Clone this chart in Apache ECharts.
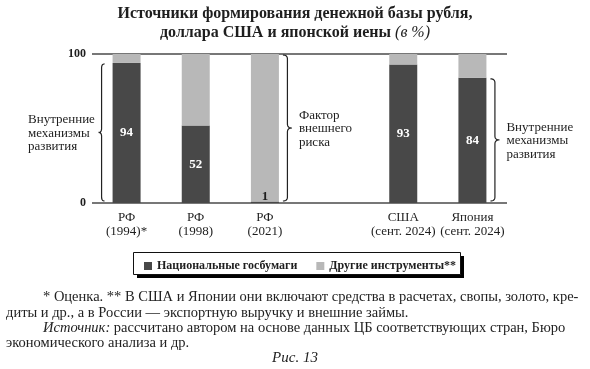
<!DOCTYPE html>
<html>
<head>
<meta charset="utf-8">
<script src="https://cdn.jsdelivr.net/npm/echarts@6/dist/echarts.min.js"></script>
<style>
html,body{margin:0;padding:0;background:#fff;}
#chart{width:590px;height:369px;}
</style>
</head>
<body>
<div id="chart"></div>
<script>
// ---- data ----
var categories = ['РФ\n(1994)*', 'РФ\n(1998)', 'РФ\n(2021)', '', 'США\n(сент. 2024)', 'Япония\n(сент. 2024)'];
var seriesNames = ['Национальные госбумаги', 'Другие инструменты**'];
var nationalBonds = [94, 52, 1, null, 93, 84];
var otherInstruments = [6, 48, 99, null, 7, 16];
var yTicks = [0, 100];

var SERIF = '"Liberation Serif", "DejaVu Serif", serif';
var DARK = '#484848';
var LIGHT = '#b8b8b8';
var INK = '#1e1e1e';

var chart = echarts.init(document.getElementById('chart'), null, {renderer: 'canvas'});

var natData = nationalBonds.map(function (v) {
  if (v === null) return '-';
  if (v < 5) {
    return {value: v, label: {position: 'top', distance: -2, color: INK}};
  }
  return v;
});
var othData = otherInstruments.map(function (v) { return v === null ? '-' : v; });

var option = {
  animation: false,
  backgroundColor: '#fff',
  title: {
    left: 'center',
    top: 4,
    padding: 0,
    text: '{b|Источники формирования денежной базы рубля,}\n{b|доллара США и японской иены }{i|(в %)}',
    textStyle: {
      fontFamily: SERIF,
      lineHeight: 19,
      rich: {
        b: {fontFamily: SERIF, fontWeight: 'bold', fontSize: 16, color: INK, lineHeight: 19},
        i: {fontFamily: SERIF, fontStyle: 'italic', fontWeight: 'normal', fontSize: 16, color: INK, lineHeight: 19}
      }
    }
  },
  legend: {
    left: 144,
    top: 260,
    itemWidth: 8,
    itemHeight: 8,
    itemGap: 19,
    icon: 'rect',
    padding: 0,
    textStyle: {fontFamily: SERIF, fontWeight: 'bold', fontSize: 12, color: INK},
    data: seriesNames
  },
  grid: {left: 92, right: 83, top: 54, bottom: 166, containLabel: false},
  xAxis: {
    type: 'category',
    data: categories,
    axisLine: {show: false},
    axisTick: {show: false},
    axisLabel: {fontFamily: SERIF, fontSize: 13, color: INK, lineHeight: 14, margin: 8, interval: 0}
  },
  yAxis: {
    type: 'value',
    min: 0,
    max: 100,
    interval: 100,
    axisLine: {show: false},
    axisTick: {show: false},
    splitLine: {show: true, lineStyle: {color: '#4a4a4a', width: 1.5}},
    axisLabel: {
      fontFamily: SERIF, fontSize: 12, fontWeight: 'bold', color: INK, margin: 6,
      customValues: yTicks
    }
  },
  series: [
    {
      name: seriesNames[0],
      type: 'bar',
      stack: 'total',
      barWidth: 28,
      itemStyle: {color: DARK},
      label: {show: true, position: 'inside', color: '#fff', fontFamily: SERIF, fontWeight: 'bold', fontSize: 13},
      data: natData
    },
    {
      name: seriesNames[1],
      type: 'bar',
      stack: 'total',
      barWidth: 28,
      itemStyle: {color: LIGHT},
      data: othData
    }
  ]
};
chart.setOption(option);

// ---- annotation braces, positioned from the axes ----
function quad(pts, p0, c, p1) {
  for (var t = 1; t <= 8; t++) {
    var s = t / 8, u = 1 - s;
    pts.push([u * u * p0[0] + 2 * u * s * c[0] + s * s * p1[0],
              u * u * p0[1] + 2 * u * s * c[1] + s * s * p1[1]]);
  }
}
function bracePoints(xTip, xEnd, y1, y2) {
  var xs = (xTip + xEnd) / 2;
  var ym = (y1 + y2) / 2;
  var r = 4;
  var pts = [[xEnd, y1]];
  quad(pts, [xEnd, y1], [xs, y1], [xs, y1 + r]);
  pts.push([xs, ym - r]);
  quad(pts, [xs, ym - r], [xs, ym], [xTip, ym]);
  quad(pts, [xTip, ym], [xs, ym], [xs, ym + r]);
  pts.push([xs, y2 - r]);
  quad(pts, [xs, y2 - r], [xs, y2], [xEnd, y2]);
  return pts;
}
function px(catIdx, val) {
  return chart.convertToPixel({gridIndex: 0}, [catIdx, val]);
}
var halfBar = 14;
var braces = [
  {cat: 0, side: 'left', top: nationalBonds[0], label: 'Внутренние\nмеханизмы\nразвития'},
  {cat: 2, side: 'right', top: 100, label: 'Фактор\nвнешнего\nриска'},
  {cat: 5, side: 'right', top: nationalBonds[5], label: 'Внутренние\nмеханизмы\nразвития'}
];
var graphics = [];
braces.forEach(function (b) {
  var pTop = px(b.cat, b.top);
  var pBot = px(b.cat, 0);
  var y1 = pTop[1] + 1, y2 = pBot[1] - 2;
  var xTip, xEnd, tx;
  if (b.side === 'left') {
    xEnd = pTop[0] - halfBar - 8; xTip = xEnd - 6;
    tx = 28;
  } else {
    xEnd = pTop[0] + halfBar + 4; xTip = xEnd + 9;
    tx = xTip + 7;
  }
  graphics.push({
    type: 'polyline', silent: true,
    shape: {points: bracePoints(xTip, xEnd, y1, y2)},
    style: {fill: null, stroke: '#222', lineWidth: 1.2}
  });
  graphics.push({
    type: 'text', silent: true,
    x: tx, y: (y1 + y2) / 2 + 1,
    style: {text: b.label, font: '13px ' + SERIF, fill: INK, lineHeight: 13.5,
      align: 'left', verticalAlign: 'middle'}
  });
});

// legend frame with solid offset shadow
graphics.push({
  type: 'rect', silent: true, z: -2,
  shape: {x: 137, y: 256, width: 327, height: 22},
  style: {fill: '#000', stroke: null}
});
graphics.push({
  type: 'rect', silent: true, z: -1,
  shape: {x: 133.5, y: 252.5, width: 327, height: 22},
  style: {fill: '#fff', stroke: '#111', lineWidth: 1}
});

// footnotes
var FN = '14.5px ' + SERIF;
var notes = [
  {x: 43, y: 297, text: '* Оценка. ** В США и Японии они включают средства в расчетах, свопы, золото, кре-'},
  {x: 6, y: 313, text: 'диты и др., а в России — экспортную выручку и внешние займы.'},
  {x: 43, y: 328, text: '{i|Источник:} рассчитано автором на основе данных ЦБ соответствующих стран, Бюро'},
  {x: 6, y: 343, text: 'экономического анализа и др.'}
];
notes.forEach(function (n) {
  graphics.push({
    type: 'text', silent: true, x: n.x, y: n.y,
    style: {text: n.text, font: FN, fill: '#222', verticalAlign: 'middle',
      rich: {i: {font: 'italic ' + FN, fill: '#222'}}}
  });
});
graphics.push({
  type: 'text', silent: true, x: 295, y: 358,
  style: {text: 'Рис. 13', font: 'italic 15px ' + SERIF, fill: '#222', align: 'center', verticalAlign: 'middle'}
});

chart.setOption({graphic: graphics});
</script>
</body>
</html>
